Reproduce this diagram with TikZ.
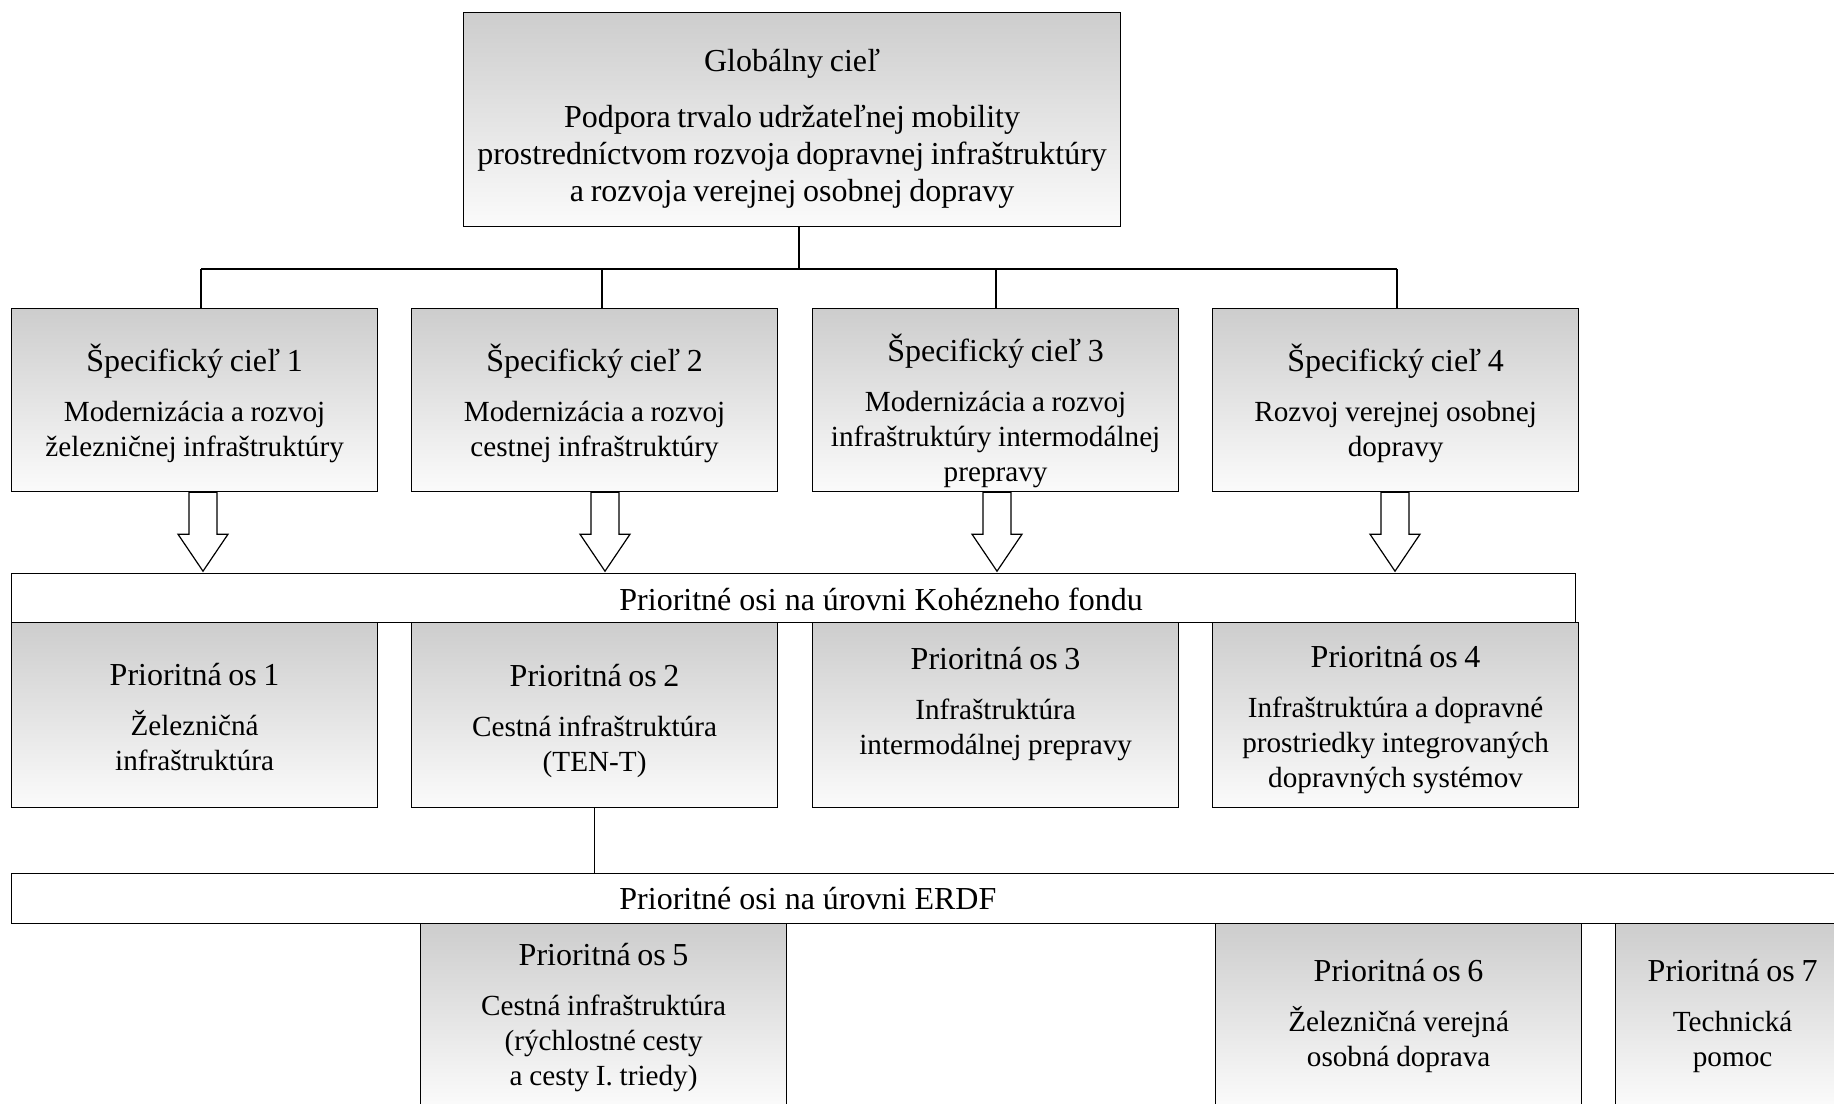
\documentclass[tikz,border=0pt]{standalone}
\usepackage{fontspec}
\setmainfont{Liberation Serif}
\usetikzlibrary{calc}
\definecolor{shtop}{HTML}{CDCDCD}
\definecolor{shbot}{HTML}{FBFBFB}
\newcommand{\hdf}{\fontsize{16}{19}\selectfont}
\newcommand{\bdf}{\fontsize{14.6}{17.5}\selectfont}
% heading line raised by a strut of height #1
\newcommand{\cell}[3][14pt]{{\hdf\rule{0pt}{#1}\smash{#2}\par}\vspace{7.5pt}{\bdf #3\par}}
\tikzset{
  ln/.style={draw=black,line width=0.6pt},
  goalbox/.style={ln,top color=shtop,bottom color=shbot,anchor=north west,
    minimum width=183pt,minimum height=91.5pt,text width=178pt,align=center,
    inner xsep=2pt,inner ysep=0.5pt},
  barbox/.style={ln,fill=white,anchor=north west,minimum height=24.5pt,inner sep=0pt},
  bartext/.style={anchor=west,inner sep=0pt,font=\hdf},
  barrow/.style={ln,fill=white,line join=miter}
}

\begin{document}
\begin{tikzpicture}[x=0.5pt,y=-0.5pt]
\useasboundingbox (0,0) rectangle (1834,1103);
\clip (0,0) rectangle (1834,1103);
% global goal
\node[goalbox,minimum width=328.5pt,minimum height=107pt,text width=324pt] (glob) at (463,12)
  {{\hdf\rule{0pt}{20.3pt}\smash{Globálny cieľ}\par}\vspace{9.5pt}{\fontsize{16}{18.5}\selectfont Podpora trvalo udržateľnej mobility\\ prostredníctvom rozvoja dopravnej infraštruktúry\\ a rozvoja verejnej osobnej dopravy\par}};
% specific goals
\node[goalbox] (s1) at (11,308) {\cell[16.7pt]{Špecifický cieľ 1}{Modernizácia a rozvoj\\ železničnej infraštruktúry}};
\node[goalbox] (s2) at (411,308) {\cell[16.7pt]{Špecifický cieľ 2}{Modernizácia a rozvoj\\ cestnej infraštruktúry}};
\node[goalbox] (s3) at (812,308) {\cell[24.9pt]{Špecifický cieľ 3}{Modernizácia a rozvoj\\ infraštruktúry intermodálnej\\ prepravy}};
\node[goalbox] (s4) at (1212,308) {\cell[16.7pt]{Špecifický cieľ 4}{Rozvoj verejnej osobnej\\ dopravy}};
% tree
\coordinate (hub) at (799,269);
\foreach \n/\x in {1/201,2/602,3/996,4/1397} \coordinate (d\n) at (\x,269);
\draw[ln] (glob.south -| hub) -- (hub);
\draw[ln] (d1) -- (d4);
\foreach \n in {1,...,4} \draw[ln] (d\n) -- (d\n |- s\n.north);
% block arrows
\foreach \n/\x in {1/203,2/605,3/997,4/1395} {
  \coordinate (a\n) at (\x,0);
  \draw[barrow] ($(a\n |- s\n.south)+(-14,0)$) -- ++(28,0) -- ++(0,42) -- ++(11,0)
    -- ++(-25,37) -- ++(-25,-37) -- ++(11,0) -- cycle;
}
% cohesion fund
\node[barbox,minimum width=782pt] (kf) at (11,573) {};
\node[bartext] (kflbl) at (619,599) {Prioritné osi na úrovni Kohézneho fondu};
\node[goalbox,minimum height=92.5pt] (p1) at (11,622) {\cell[13.3pt]{Prioritná os 1}{Železničná\\ infraštruktúra}};
\node[goalbox,minimum height=92.5pt] (p2) at (411,622) {\cell[16.8pt]{Prioritná os 2}{Cestná infraštruktúra\\ (TEN-T)}};
\node[goalbox,minimum height=92.5pt] (p3) at (812,622) {\cell[19.2pt]{Prioritná os 3}{Infraštruktúra\\ intermodálnej prepravy\\ \strut}};
\node[goalbox,minimum height=92.5pt] (p4) at (1212,622) {\cell[15.6pt]{Prioritná os 4}{Infraštruktúra a dopravné\\ prostriedky integrovaných\\ dopravných systémov}};
% ERDF
\node[barbox,minimum width=925pt,minimum height=25pt] (erdf) at (11,873) {};
\node[bartext] (erdflbl) at (619,899) {Prioritné osi na úrovni ERDF};
\draw[ln] (p2.south) -- (p2.south |- erdf.north);
\node[goalbox] (p5) at (420,923) {\cell[13.3pt]{Prioritná os 5}{Cestná infraštruktúra\\ (rýchlostné cesty\\ a cesty I. triedy)}};
\node[goalbox] (p6) at (1215,923) {\cell[12.2pt]{Prioritná os 6}{Železničná verejná\\ osobná doprava}};
\node[goalbox,minimum width=117pt,text width=112pt] (p7) at (1615,923) {\cell[12.2pt]{Prioritná os 7}{Technická\\ pomoc}};
\end{tikzpicture}
\end{document}
